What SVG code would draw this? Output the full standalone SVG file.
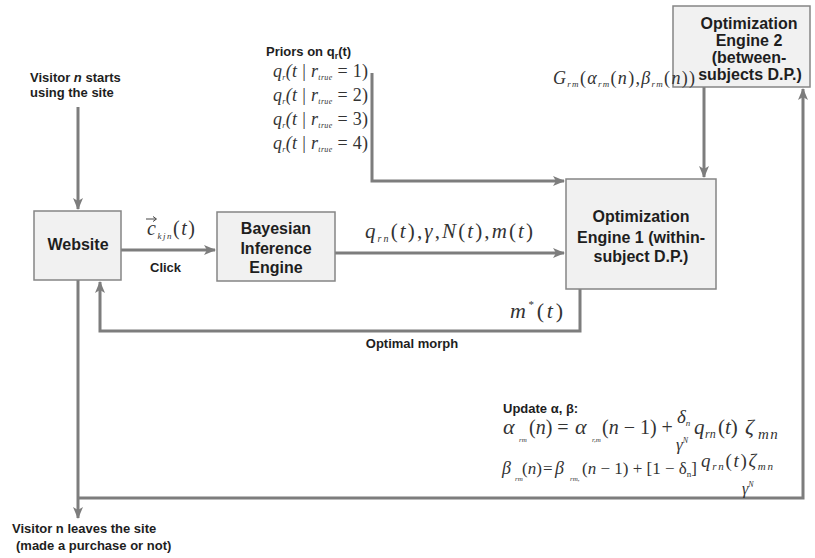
<svg xmlns="http://www.w3.org/2000/svg" width="815" height="558" viewBox="0 0 815 558">
<style>
.box{fill:#f1f1f1;stroke:#858585;stroke-width:1.5}
.bt{font-family:"Liberation Sans",Arial,sans-serif;font-weight:bold;font-size:16px;fill:#1e1e1e;text-anchor:middle}
.lb{font-family:"Liberation Sans",Arial,sans-serif;font-weight:bold;font-size:13px;fill:#1e1e1e}
.eq{font-family:"Liberation Serif","Times New Roman",serif;font-style:italic;fill:#333}
.up{font-family:"Liberation Serif","Times New Roman",serif;font-style:normal;fill:#333}
.ln{fill:none;stroke:#7d7d7d;stroke-width:3}
</style>
<defs>
<marker id="ah" markerUnits="userSpaceOnUse" markerWidth="12" markerHeight="12" refX="11" refY="6" orient="auto">
<path d="M0,1 L12,6 L0,11 L3,6 Z" fill="#7d7d7d"/>
</marker>
</defs>

<g id="connectors">
<path class="ln" d="M78,107 V209" marker-end="url(#ah)"/>
<path class="ln" d="M121,250 H215" marker-end="url(#ah)"/>
<path class="ln" d="M335,253 H564" marker-end="url(#ah)"/>
<path class="ln" d="M372,73 V181 H564" marker-end="url(#ah)"/>
<path class="ln" d="M704,87 V177" marker-end="url(#ah)"/>
<path class="ln" d="M580,289 V331 H100 V282" marker-end="url(#ah)"/>
<path class="ln" d="M78,280 V518" marker-end="url(#ah)"/>
<path class="ln" d="M78,498 H803 V89" marker-end="url(#ah)"/>
</g>

<g id="website">
<rect class="box" x="34" y="211" width="87" height="69"/>
<text class="bt" x="78" y="250">Website</text>
</g>

<g id="bayesian">
<rect class="box" x="217" y="212" width="118" height="69"/>
<text class="bt" x="276" y="234">Bayesian</text>
<text class="bt" x="276" y="254">Inference</text>
<text class="bt" x="276" y="273">Engine</text>
</g>

<g id="opt1">
<rect class="box" x="566" y="179" width="150" height="110"/>
<text class="bt" x="641" y="222">Optimization</text>
<text class="bt" x="641" y="243">Engine 1 (within-</text>
<text class="bt" x="641" y="262">subject D.P.)</text>
</g>

<g id="opt2">
<rect class="box" x="673" y="6" width="137" height="81"/>
<text class="bt" x="749" y="29">Optimization</text>
<text class="bt" x="749" y="46">Engine 2</text>
<text class="bt" x="749" y="63">(between-</text>
<text class="bt" x="750" y="80" font-size="15">subjects D.P.)</text>
</g>

<g id="labels">
<text class="lb" x="30" y="82">Visitor <tspan font-style="italic">n</tspan> starts</text>
<text class="lb" x="30" y="97">using the site</text>

<text class="lb" x="266" y="56">Priors on q<tspan font-size="9" dy="3">r</tspan><tspan dy="-3">(t)</tspan></text>
<text class="eq" font-size="18" x="273" y="77" textLength="95" lengthAdjust="spacing">q<tspan font-size="8" dy="3">r</tspan><tspan dy="-3">(t</tspan><tspan class="up"> | </tspan>r<tspan font-size="8" dy="3">true</tspan><tspan class="up" dy="-3"> = 1)</tspan></text>
<text class="eq" font-size="18" x="273" y="101" textLength="95" lengthAdjust="spacing">q<tspan font-size="8" dy="3">r</tspan><tspan dy="-3">(t</tspan><tspan class="up"> | </tspan>r<tspan font-size="8" dy="3">true</tspan><tspan class="up" dy="-3"> = 2)</tspan></text>
<text class="eq" font-size="18" x="273" y="125" textLength="95" lengthAdjust="spacing">q<tspan font-size="8" dy="3">r</tspan><tspan dy="-3">(t</tspan><tspan class="up"> | </tspan>r<tspan font-size="8" dy="3">true</tspan><tspan class="up" dy="-3"> = 3)</tspan></text>
<text class="eq" font-size="18" x="273" y="149" textLength="95" lengthAdjust="spacing">q<tspan font-size="8" dy="3">r</tspan><tspan dy="-3">(t</tspan><tspan class="up"> | </tspan>r<tspan font-size="8" dy="3">true</tspan><tspan class="up" dy="-3"> = 4)</tspan></text>

<text class="eq" font-size="18" x="553" y="84" textLength="142" lengthAdjust="spacing">G<tspan font-size="9" dy="3">rm</tspan><tspan class="up" dy="-3">(</tspan>α<tspan font-size="9" dy="3">rm</tspan><tspan class="up" dy="-3">(</tspan>n<tspan class="up">),</tspan>β<tspan font-size="9" dy="3">rm</tspan><tspan class="up" dy="-3">(</tspan>n<tspan class="up">))</tspan></text>

<path d="M146,219 H156 M153,216.5 L156.5,219 L153,221.5" fill="none" stroke="#444" stroke-width="1"/>
<text class="eq" font-size="20" x="147" y="235" textLength="48" lengthAdjust="spacing">c<tspan font-size="9" dy="4">kjn</tspan><tspan class="up" dy="-4">(</tspan>t<tspan class="up">)</tspan></text>
<text class="lb" x="150" y="272">Click</text>

<text class="eq" font-size="21" x="365" y="238" textLength="168" lengthAdjust="spacing">q<tspan font-size="10" dy="4">rn</tspan><tspan class="up" dy="-4">(</tspan>t<tspan class="up">),</tspan>γ<tspan class="up">,</tspan>N<tspan class="up">(</tspan>t<tspan class="up">),</tspan>m<tspan class="up">(</tspan>t<tspan class="up">)</tspan></text>

<text class="eq" font-size="22" x="510" y="318" textLength="53" lengthAdjust="spacing">m<tspan class="up" font-size="11" dy="-10">*</tspan><tspan class="up" dy="10">(</tspan>t<tspan class="up">)</tspan></text>
<text class="lb" x="412" y="348" text-anchor="middle">Optimal morph</text>

<text class="lb" x="503" y="413">Update α, β:</text>
<text class="eq" font-size="22" x="503" y="434">α</text>
<text class="eq" font-size="7" x="519" y="442">rm</text>
<text class="up" font-size="20" x="529" y="434">(<tspan class="eq">n</tspan>) =</text>
<text class="eq" font-size="22" x="575" y="434">α</text>
<text class="eq" font-size="7" x="592" y="442">r,m</text>
<text class="up" font-size="20" x="602" y="434">(<tspan class="eq">n</tspan> − 1) +</text>
<text class="eq" font-size="19" x="677" y="423">δ<tspan font-size="9" dy="3">n</tspan></text>
<text class="eq" font-size="17" x="676" y="450">γ<tspan font-size="8" dy="-7">N</tspan></text>
<text class="eq" font-size="21" x="694" y="434">q</text>
<text class="eq" font-size="12" x="705" y="438">rn</text>
<text class="eq" font-size="21" x="718" y="434"><tspan class="up">(</tspan>t<tspan class="up">)</tspan></text>
<text class="eq" font-size="22" x="745" y="434">ζ</text>
<text class="eq" font-size="15" x="758" y="439" letter-spacing="1.5">mn</text>

<text class="eq" font-size="18" x="502" y="474">β</text>
<text class="eq" font-size="7" x="515" y="481">rm</text>
<text class="up" font-size="17" x="522" y="474">(<tspan class="eq">n</tspan>)</text>
<text class="up" font-size="17" x="543" y="474">=</text>
<text class="eq" font-size="18" x="555" y="474">β</text>
<text class="eq" font-size="7" x="570" y="481">rm,</text>
<text class="up" font-size="17" x="582" y="474" textLength="115" lengthAdjust="spacing">(<tspan class="eq">n</tspan> − 1) + [1 − δ<tspan font-size="9" dy="3">n</tspan><tspan dy="-3">]</tspan></text>
<text class="eq" font-size="19" x="701" y="467" textLength="72" lengthAdjust="spacing">q<tspan font-size="11" dy="3">rn</tspan><tspan class="up" dy="-3">(</tspan>t<tspan class="up">)</tspan>ζ<tspan font-size="11" dy="3">mn</tspan></text>
<text class="eq" font-size="16" x="742" y="494">γ<tspan font-size="8" dy="-7">N</tspan></text>

<text class="lb" x="12" y="533">Visitor n leaves the site</text>
<text class="lb" x="16" y="550">(made a purchase or not)</text>
</g>
</svg>
